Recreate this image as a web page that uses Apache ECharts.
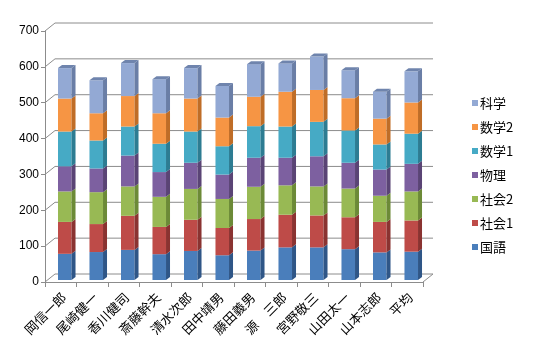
<!DOCTYPE html>
<html>
<head>
<meta charset="utf-8">
<script src="https://cdn.jsdelivr.net/npm/echarts@6/dist/echarts.min.js"></script>
<style>
  html, body { margin: 0; padding: 0; background: #fff; }
  #main { width: 534px; height: 351px; }
</style>
</head>
<body>
<div id="main"></div>
<script>
  // 生徒名
  var names = ['岡信一郎', '尾崎健一', '香川健司', '斎藤幹夫', '清水次郎', '田中靖男',
    '藤田義男', '源　三郎', '宮野敬三', '山田太一', '山本志郎', '平均'];
  var kokugo  = [73, 78, 84, 72, 81, 69, 82, 91, 91, 86, 77, 79];
  var shakai1 = [89, 78, 95, 76, 87, 76, 88, 91, 89, 89, 85, 87];
  var shakai2 = [85, 89, 82, 84, 86, 81, 90, 82, 81, 80, 73, 81];
  var butsuri = [70, 66, 86, 69, 73, 68, 81, 77, 84, 72, 73, 77];
  var suugaku1 = [97, 78, 81, 79, 87, 79, 88, 87, 96, 90, 70, 84];
  var suugaku2 = [92, 76, 85, 85, 92, 80, 82, 97, 89, 90, 72, 87];
  var kagaku  = [85, 92, 92, 95, 85, 88, 91, 79, 93, 78, 75, 87];
  var yTicks = [0, 100, 200, 300, 400, 500, 600, 700];

  var subjects = [
    { name: '国語', data: kokugo, color: '#4a7ebb', side: '#2f5687' },
    { name: '社会1', data: shakai1, color: '#be4b48', side: '#8a3331' },
    { name: '社会2', data: shakai2, color: '#98b954', side: '#6c8a37' },
    { name: '物理', data: butsuri, color: '#7d60a0', side: '#5a4475' },
    { name: '数学1', data: suugaku1, color: '#46aac5', side: '#2d7c92' },
    { name: '数学2', data: suugaku2, color: '#f69544', side: '#bf6d27' },
    { name: '科学', data: kagaku, color: '#93a9d4', side: '#6a7ea6' }
  ]

  var DX = 4, DY = -3   // 奥行き
  var WX = 10, WY = -8  // 壁の奥行き

  var chart = echarts.init(document.getElementById('main'))

  var series = []
  // 壁と床
  series.push({
    type: 'custom',
    silent: true,
    z: 1,
    data: yTicks.map(function (v) { return [0, v] }),
    encode: { x: 0, y: 1 },
    renderItem: function (params, api) {
      var band = api.size([1, 0])[0]
      var p = api.coord([0, api.value(1)])
      var q = api.coord([names.length - 1, api.value(1)])
      var x0 = p[0] - band / 2, x1 = q[0] + band / 2, y = p[1]
      var pts = [[x0, y], [x0 + WX, y + WY], [x1 + WX, y + WY]]
      var children = [{
        type: 'polyline',
        shape: { points: pts },
        style: { stroke: '#8c8c8c', lineWidth: 1, fill: null }
      }]
      if (api.value(1) === 0) {
        children.push({
          type: 'line',
          shape: { x1: x1, y1: y, x2: x1 + WX, y2: y + WY },
          style: { stroke: '#8c8c8c', lineWidth: 1 }
        })
      }
      return { type: 'group', children: children }
    }
  })

  var base = names.map(function () { return 0 })
  subjects.forEach(function (s, k) {
    var rows = s.data.map(function (v, i) {
      var row = [i, base[i], base[i] + v]
      base[i] += v
      return row
    })
    var last = k === subjects.length - 1
    series.push({
      name: s.name,
      type: 'custom',
      z: 2,
      itemStyle: { color: s.color },
      data: rows,
      encode: { x: 0, y: [1, 2] },
      renderItem: function (params, api) {
        var i = api.value(0)
        var lo = api.coord([i, api.value(1)])
        var hi = api.coord([i, api.value(2)])
        var band = api.size([1, 0])[0]
        var w = band * 0.43
        var xl = lo[0] + 4 - w / 2, xr = xl + w
        var yb = lo[1] - 2, yt = hi[1] - 2
        var children = [{
          type: 'rect',
          shape: { x: xl, y: yt, width: w, height: yb - yt },
          style: { fill: s.color }
        }, {
          type: 'polygon',
          shape: { points: [[xr, yb], [xr + DX, yb + DY], [xr + DX, yt + DY], [xr, yt]] },
          style: { fill: s.side }
        }]
        if (last) {
          children.push({
            type: 'polygon',
            shape: { points: [[xl, yt], [xl + DX, yt + DY], [xr + DX, yt + DY], [xr, yt]] },
            style: { fill: '#6f84ad' }
          })
        }
        return { type: 'group', children: children }
      }
    })
  })

  chart.setOption({
    animation: false,
    textStyle: { fontFamily: '"Noto Sans CJK JP", sans-serif' },
    grid: { left: 45, right: 111, top: 31, bottom: 69 },
    legend: {
      orient: 'vertical',
      left: 467,
      top: 91,
      icon: 'rect',
      itemWidth: 6,
      itemHeight: 6,
      itemGap: 10,
      textStyle: { fontSize: 13, color: '#000', lineHeight: 14, padding: [0, 0, 0, -3] },
      data: subjects.map(function (s) { return s.name }).reverse()
    },
    xAxis: {
      type: 'category',
      data: names,
      axisLine: { lineStyle: { color: '#8c8c8c' } },
      axisTick: { show: true, length: 5, lineStyle: { color: '#8c8c8c' } },
      axisLabel: { rotate: 45, fontSize: 13, color: '#000', margin: 16, interval: 0, padding: [0, -4, 0, 0] }
    },
    yAxis: {
      type: 'value',
      min: 0,
      max: 700,
      interval: 100,
      axisLine: { show: true, lineStyle: { color: '#8c8c8c' } },
      axisTick: { show: true, length: 4, lineStyle: { color: '#8c8c8c' } },
      splitLine: { show: false },
      axisLabel: { fontSize: 12, color: '#000', margin: 6, fontFamily: '"Liberation Sans", sans-serif' }
    },
    series: series
  })
</script>
</body>
</html>
